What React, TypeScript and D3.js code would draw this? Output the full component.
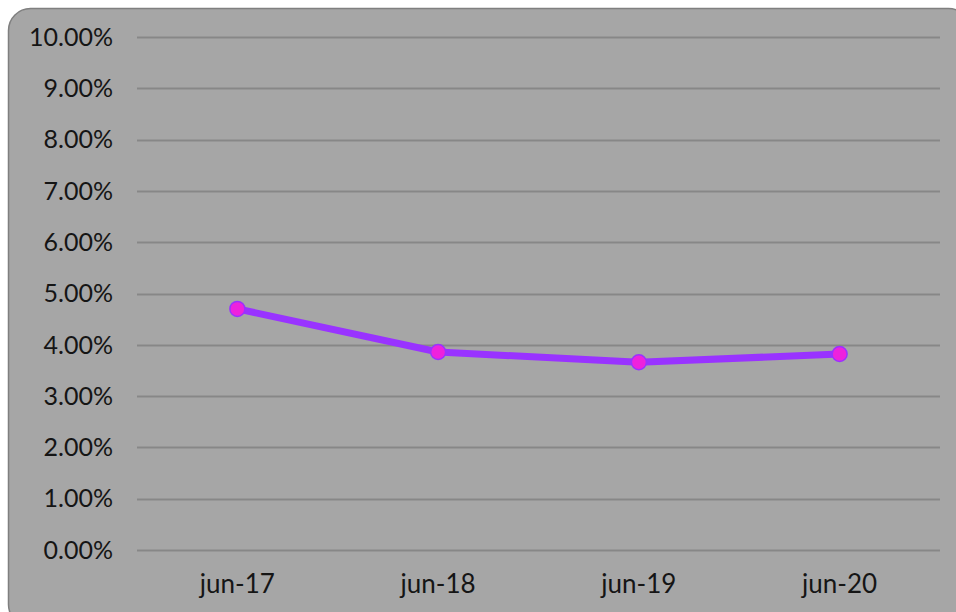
import React, { useRef, useEffect } from "react";
import * as d3 from "d3";

const categories = ["jun-17", "jun-18", "jun-19", "jun-20"];
const values = [0.047, 0.0386, 0.0366, 0.0382];
const yTicks = [0, 0.01, 0.02, 0.03, 0.04, 0.05, 0.06, 0.07, 0.08, 0.09, 0.1];

const W = 956;
const H = 612;

const App = () => {
  const ref = useRef(null);

  useEffect(() => {
    const svg = d3.select(ref.current);
    svg.selectAll("*").remove();

    const font = "'Century Gothic', Lato, 'DejaVu Sans', sans-serif";

    // chart area background
    svg
      .append("rect")
      .attr("x", 8.5)
      .attr("y", 8.5)
      .attr("width", 962)
      .attr("height", 618)
      .attr("rx", 22)
      .attr("fill", "#a6a6a6")
      .attr("stroke", "#7f7f7f")
      .attr("stroke-width", 1.5);

    const x = d3.scaleBand().domain(categories).range([137, 940]);
    const y = d3.scaleLinear().domain([0, 0.1]).range([550, 37]);

    const g = svg.append("g");

    g.selectAll("line.grid")
      .data(yTicks)
      .enter()
      .append("line")
      .attr("class", "grid")
      .attr("x1", 137)
      .attr("x2", 940)
      .attr("y1", (d) => Math.round(y(d)) + 0.5)
      .attr("y2", (d) => Math.round(y(d)) + 0.5)
      .attr("stroke", "#878787")
      .attr("stroke-width", 2);

    const fmt = d3.format(".2%");
    g.selectAll("text.ytick")
      .data(yTicks)
      .enter()
      .append("text")
      .attr("class", "ytick")
      .attr("x", 113)
      .attr("y", (d) => y(d))
      .attr("dy", "0.35em")
      .attr("text-anchor", "end")
      .attr("font-family", font)
      .attr("font-size", 25)
      .attr("fill", "#151515")
      .text((d) => fmt(d));

    g.selectAll("text.xtick")
      .data(categories)
      .enter()
      .append("text")
      .attr("class", "xtick")
      .attr("x", (d) => x(d) + x.bandwidth() / 2)
      .attr("y", 584)
      .attr("dy", "0.35em")
      .attr("text-anchor", "middle")
      .attr("font-family", font)
      .attr("font-size", 26)
      .attr("fill", "#151515")
      .text((d) => d);

    const line = d3
      .line()
      .x((d, i) => x(categories[i]) + x.bandwidth() / 2)
      .y((d) => y(d));

    g.append("path")
      .datum(values)
      .attr("d", line)
      .attr("fill", "none")
      .attr("stroke", "#9933ff")
      .attr("stroke-width", 7)
      .attr("stroke-linejoin", "round");

    g.selectAll("circle")
      .data(values)
      .enter()
      .append("circle")
      .attr("cx", (d, i) => x(categories[i]) + x.bandwidth() / 2)
      .attr("cy", (d) => y(d))
      .attr("r", 7.5)
      .attr("fill", "#ee22dd")
      .attr("stroke", "#9933ff")
      .attr("stroke-width", 1.5);
  }, []);

  return (
    <div style={{ position: "fixed", left: 0, top: 0, width: W, height: H, background: "#fff" }}>
      <svg ref={ref} width={W} height={H}></svg>
    </div>
  );
};

export default App;
